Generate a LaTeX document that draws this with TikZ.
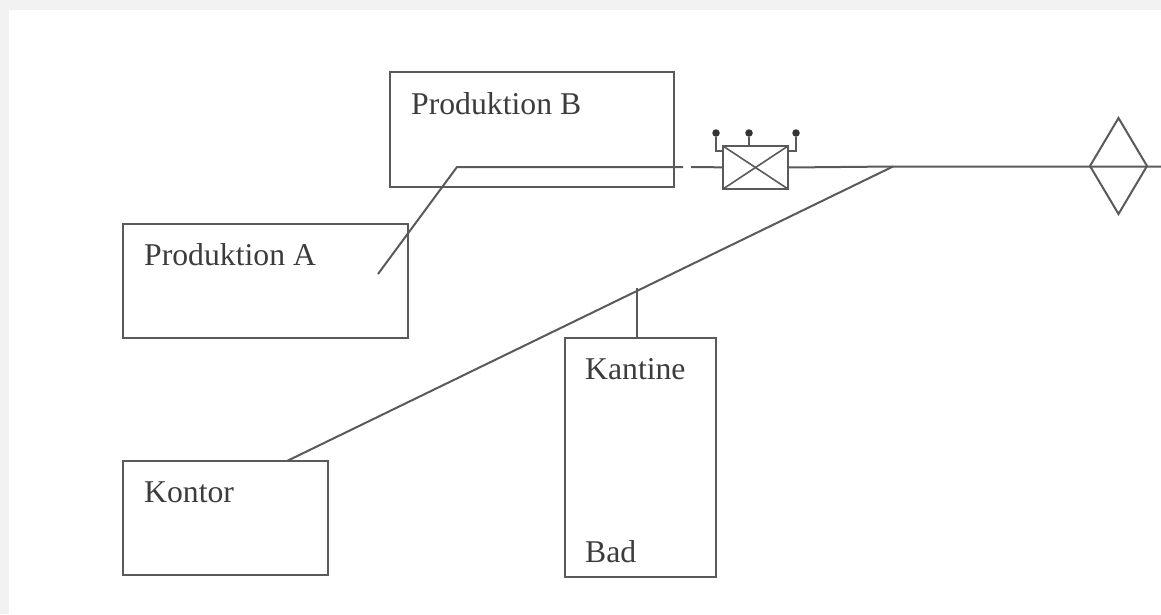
\documentclass[tikz,border=0pt]{standalone}
\usepackage{fontspec}
\setmainfont{Liberation Serif}
\usetikzlibrary{shapes.geometric,calc}
\definecolor{bgrey}{HTML}{F2F2F2}
\definecolor{ink}{HTML}{5A5A5A}
\definecolor{txt}{HTML}{3C3C3C}
\tikzset{
  x=1pt,y=-1pt,
  wire/.style={draw=ink,line width=2pt,line join=miter},
  thinwire/.style={draw=ink,line width=1.6pt,line join=miter},
  boxnode/.style={draw=ink,line width=2pt,rectangle,inner sep=0pt,outer sep=0pt,anchor=north west},
  lbl/.style={text=txt,font=\fontsize{31.7}{32}\selectfont,anchor=base west,inner sep=0pt},
  dotnode/.style={circle,fill=black!80,inner sep=0pt,minimum size=7.5pt}
}
\begin{document}
\begin{tikzpicture}
\useasboundingbox (0,0) rectangle (1161,614);
\fill[bgrey] (0,0) rectangle (1161,614);
\fill[white] (9,10) rectangle (1161,614);
% buildings
\node[boxnode,minimum width=284pt,minimum height=115pt] (prodB) at (390,72) {};
\node[boxnode,minimum width=285pt,minimum height=114pt] (prodA) at (123,224) {};
\node[boxnode,minimum width=205pt,minimum height=114pt] (kontor) at (123,461) {};
\node[boxnode,minimum width=151pt,minimum height=239pt] (kantine) at (565,338) {};
% labels
\node[lbl] (tB) at (411,114) {Produktion B};
\node[lbl] (tA) at (144,265) {Produktion A};
\node[lbl] (tKo) at (144,502) {Kontor};
\node[lbl] (tKa) at (585,379) {Kantine};
\node[lbl] (tBad) at (585,562) {Bad};
% meter
\node[boxnode,minimum width=65pt,minimum height=43pt] (meter) at (723,146) {};
\draw[thinwire] (meter.north west) -- (meter.south east);
\draw[thinwire] (meter.north east) -- (meter.south west);
\node[dotnode] (d1) at (716,133) {};
\node[dotnode] (d2) at (749,133) {};
\node[dotnode] (d3) at (796,133) {};
\draw[thinwire] (d1) -- (716,151) -- (723,151);
\draw[thinwire] (d2) -- (d2 |- meter.north);
\draw[thinwire] (d3) -- (796,151) -- (788,151);
% main line
\node[diamond,draw=ink,line width=2pt,inner sep=0pt,outer sep=0pt,aspect=0.6,
      minimum height=96pt,minimum width=57pt] (valve) at (1118.5,166) {};
\coordinate (aEnd) at (378,274);
\coordinate (bend) at (457,167);
\coordinate (dashA) at (683,167);
\coordinate (dashB) at (691,167);
\coordinate (dashC) at (705,167);
\coordinate (fork) at (893,166.5);
\coordinate (rightEnd) at (1161,166.5);
\coordinate (kontorTop) at (287,461);
\coordinate (tee) at (637,288);
\draw[wire] (aEnd) -- (bend) -- (dashA);
\draw[wire] (dashB) -- (dashC) -- (meter.west);
\draw[wire] (meter.east) -- (fork) -- (rightEnd);
\draw[wire] (kontorTop) -- (fork);
\draw[wire] (tee) -- (tee |- kantine.north);
\end{tikzpicture}
\end{document}
